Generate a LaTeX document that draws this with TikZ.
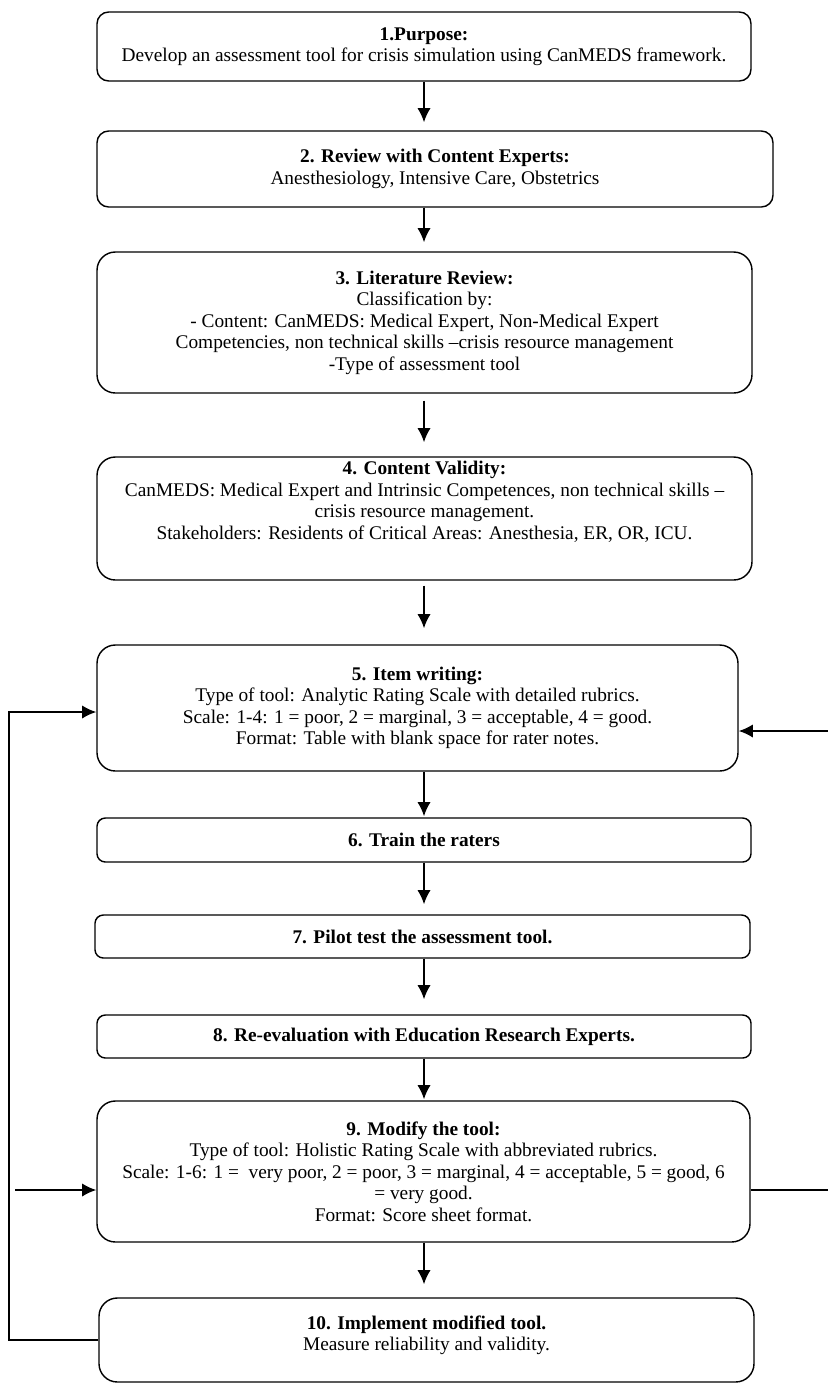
\documentclass[tikz,border=0pt]{standalone}
\usepackage{fontspec}
\setmainfont{Liberation Serif}
\usetikzlibrary{arrows.meta}

\begin{document}
\begin{tikzpicture}[x=0.6pt, y=-0.6pt,
    stagebox/.style={draw, line width=0.85pt, rounded corners=11pt, align=center,
      inner sep=0pt, font=\fontsize{11.6}{12.9}\selectfont},
    slimbox/.style={stagebox, rounded corners=5pt},
    flow/.style={line width=1.1pt, -{Latex[length=8.5pt, width=8pt]}}]
    \clip (0, 0) rectangle (828, 1384);
    \useasboundingbox (0, 0) rectangle (828, 1384);
    \coordinate (axis) at (424, 0);
    {
      \node[stagebox, rounded corners=7pt, minimum width=392.4pt, minimum height=41.4pt] (b1) at (424, 46.5)
        {\textbf{1.Purpose:}\\ Develop an assessment tool for crisis simulation using CanMEDS framework.};
      \node[stagebox, rounded corners=7pt, minimum width=405.6pt, minimum height=45.6pt] (b2) at (435, 169)
        {\textbf{2. Review with Content Experts:}\\ Anesthesiology, Intensive Care, Obstetrics};
      \node[stagebox, minimum width=393pt, minimum height=84.6pt] (b3) at (424.5, 322.5)
        {\textbf{3. Literature Review:}\\ Classification by:\\ - Content: CanMEDS: Medical Expert, Non-Medical Expert\\
         Competencies, non technical skills --crisis resource management\\ -Type of assessment tool};
      \node[stagebox, minimum width=393pt, minimum height=73.8pt, text depth=22pt] (b4) at (424.5, 518.5)
        {\textbf{4. Content Validity:}\\ CanMEDS: Medical Expert and Intrinsic Competences, non technical skills --\\
         crisis resource management.\\ Stakeholders: Residents of Critical Areas: Anesthesia, ER, OR, ICU.};
      \node[stagebox, minimum width=384.6pt, minimum height=75.6pt] (b5) at (417.5, 708)
        {\textbf{5. Item writing:}\\ Type of tool: Analytic Rating Scale with detailed rubrics.\\
         Scale: 1-4: 1 = poor, 2 = marginal, 3 = acceptable, 4 = good.\\ Format: Table with blank space for rater notes.};
    }
    {
      \node[slimbox, minimum width=392.4pt, minimum height=26.4pt] (b6) at (424, 840) {\textbf{6. Train the raters}};
      \node[slimbox, minimum width=393pt, minimum height=25.8pt] (b7) at (422.5, 936.5) {\textbf{7. Pilot test the assessment tool.}};
      \node[slimbox, minimum width=392.4pt, minimum height=25.8pt] (b8) at (424, 1036.5) {\textbf{8. Re-evaluation with Education Research Experts.}};
      \node[stagebox, minimum width=391.8pt, minimum height=84.6pt] (b9) at (423.5, 1171.5)
        {\textbf{9. Modify the tool:}\\ Type of tool: Holistic Rating Scale with abbreviated rubrics.\\
         Scale: 1-6: 1 = \ very poor, 2 = poor, 3 = marginal, 4 = acceptable, 5 = good, 6\\ = very good.\\
         Format: Score sheet format.};
      \node[stagebox, minimum width=393pt, minimum height=50.4pt, text depth=8pt] (b10) at (426.5, 1340)
        {\textbf{10. Implement modified tool.}\\ Measure reliability and validity.};
    }
    \draw[flow, shorten >=4.8pt] (axis |- b1.south) -- (axis |- b2.north);
    \draw[flow, shorten >=5.4pt] (axis |- b2.south) -- (axis |- b3.north);
    \draw[flow, shorten <=4.2pt, shorten >=8.4pt] (axis |- b3.south) -- (axis |- b4.north);
    \draw[flow, shorten <=3pt, shorten >=9.6pt] (axis |- b4.south) -- (axis |- b5.north);
    \draw[flow, shorten >=0.6pt] (axis |- b5.south) -- (axis |- b6.north);
    \draw[flow, shorten >=6pt] (axis |- b6.south) -- (axis |- b7.north);
    \draw[flow, shorten >=9pt] (axis |- b7.south) -- (axis |- b8.north);
    \draw[flow, shorten >=0.6pt] (axis |- b8.south) -- (axis |- b9.north);
    \draw[flow, shorten >=7.8pt] (axis |- b9.south) -- (axis |- b10.north);
    \coordinate (backL) at (9, 712);
    \coordinate (inL) at (15, 1190);
    \coordinate (lowR) at (840, 1190);
    \coordinate (upR) at (840, 731);
    \draw[flow] (b10.west) -| (backL) -- (backL -| b5.west);
    \draw[flow] (inL) -- (inL -| b9.west);
    \draw[flow] (lowR -| b9.east) -- (lowR) -- (upR) -- (upR -| b5.east);
\end{tikzpicture}
\end{document}
